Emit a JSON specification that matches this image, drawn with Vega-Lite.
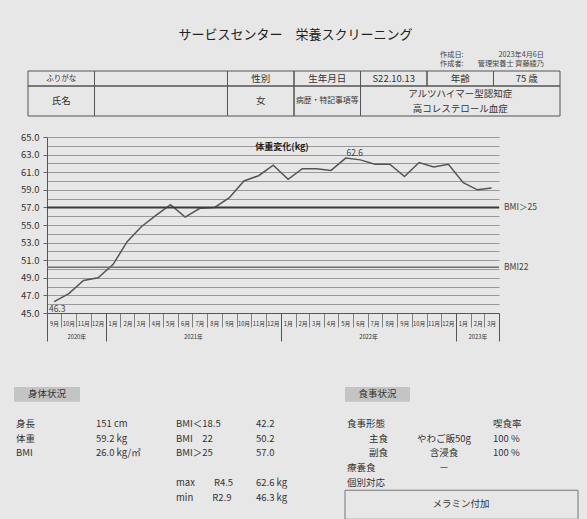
{
  "$schema": "https://vega.github.io/schema/vega-lite/v6.json",
  "background": "#e7e7e7",
  "padding": {"left": 14, "top": 28, "right": 0, "bottom": 0},
  "config": {"font": "Noto Sans CJK JP", "view": {"stroke": null}},
  "title": {"text": "サービスセンター\u3000栄養スクリーニング", "fontSize": 13, "fontWeight": "normal", "color": "#222", "anchor": "middle", "dx": -15, "offset": 9.5},
  "datasets": {
    "weight": [
      {"month": "2020-09", "weight": 46.3}, {"month": "2020-10", "weight": 47.2}, {"month": "2020-11", "weight": 48.7}, {"month": "2020-12", "weight": 49.0},
      {"month": "2021-01", "weight": 50.5}, {"month": "2021-02", "weight": 53.1}, {"month": "2021-03", "weight": 54.8}, {"month": "2021-04", "weight": 56.1},
      {"month": "2021-05", "weight": 57.3}, {"month": "2021-06", "weight": 55.9}, {"month": "2021-07", "weight": 56.9}, {"month": "2021-08", "weight": 57.0},
      {"month": "2021-09", "weight": 58.1}, {"month": "2021-10", "weight": 60.0}, {"month": "2021-11", "weight": 60.6}, {"month": "2021-12", "weight": 61.8},
      {"month": "2022-01", "weight": 60.2}, {"month": "2022-02", "weight": 61.4}, {"month": "2022-03", "weight": 61.4}, {"month": "2022-04", "weight": 61.2},
      {"month": "2022-05", "weight": 62.6}, {"month": "2022-06", "weight": 62.4}, {"month": "2022-07", "weight": 61.9}, {"month": "2022-08", "weight": 61.9},
      {"month": "2022-09", "weight": 60.5}, {"month": "2022-10", "weight": 62.1}, {"month": "2022-11", "weight": 61.6}, {"month": "2022-12", "weight": 61.9},
      {"month": "2023-01", "weight": 59.8}, {"month": "2023-02", "weight": 59.0}, {"month": "2023-03", "weight": 59.2}
    ],
    "bmi": [
      {"label": "BMI＞25", "value": 57.0},
      {"label": "BMI22", "value": 50.2}
    ],
    "meta": [
      {"row": "r1", "col": "ageLabel", "part": "label", "text": "作成日:\n作成者:"},
      {"row": "r1", "col": "age", "part": "value", "text": "2023年4月6日\n管理栄養士 齊藤綾乃"}
    ],
    "header": [
      {"row": "r1", "col": "label", "text": "ふりがな"},
      {"row": "r1", "col": "sei", "text": ""},
      {"row": "r1", "col": "sex", "text": "性別"},
      {"row": "r1", "col": "dobLabel", "text": "生年月日"},
      {"row": "r1", "col": "dob", "text": "S22.10.13"},
      {"row": "r1", "col": "ageLabel", "text": "年齢"},
      {"row": "r1", "col": "age", "text": "75 歳"},
      {"row": "r2a", "col": "label", "text": "氏名"},
      {"row": "r2a", "col": "sei", "text": ""},
      {"row": "r2a", "col": "sex", "text": "女"},
      {"row": "r2a", "col": "dobLabel", "text": "病歴・特記事項等"},
      {"row": "r2a", "col": "ageLabel", "text": "アルツハイマー型認知症"},
      {"row": "r2b", "col": "ageLabel", "text": "高コレステロール血症"}
    ],
    "footer": [
      {"row": 0, "col": "c0", "text": "身体状況", "kind": "section"},
      {"row": 0, "col": "c4", "text": "食事状況", "kind": "section"},
      {"row": 2, "col": "c0", "text": "身長", "kind": "item"},
      {"row": 2, "col": "c1", "text": "151 cm", "kind": "item"},
      {"row": 2, "col": "c2", "text": "BMI＜18.5", "kind": "item"},
      {"row": 2, "col": "c3", "text": "42.2", "kind": "item"},
      {"row": 2, "col": "c4", "text": "食事形態", "kind": "item"},
      {"row": 2, "col": "c6", "text": "喫食率", "kind": "item"},
      {"row": 3, "col": "c0", "text": "体重", "kind": "item"},
      {"row": 3, "col": "c1", "text": "59.2 kg", "kind": "item"},
      {"row": 3, "col": "c2", "text": "BMI\u300022", "kind": "item"},
      {"row": 3, "col": "c3", "text": "50.2", "kind": "item"},
      {"row": 3, "col": "c4", "text": "主食", "kind": "sub"},
      {"row": 3, "col": "c5", "text": "やわご飯50g", "kind": "item"},
      {"row": 3, "col": "c6", "text": "100 %", "kind": "item"},
      {"row": 4, "col": "c0", "text": "BMI", "kind": "item"},
      {"row": 4, "col": "c1", "text": "26.0 kg/㎡", "kind": "item"},
      {"row": 4, "col": "c2", "text": "BMI＞25", "kind": "item"},
      {"row": 4, "col": "c3", "text": "57.0", "kind": "item"},
      {"row": 4, "col": "c4", "text": "副食", "kind": "sub"},
      {"row": 4, "col": "c5", "text": "含浸食", "kind": "item"},
      {"row": 4, "col": "c6", "text": "100 %", "kind": "item"},
      {"row": 5, "col": "c4", "text": "療養食", "kind": "item"},
      {"row": 5, "col": "c5", "text": "－", "kind": "item"},
      {"row": 6, "col": "c2", "text": "max\u3000\u3000R4.5", "kind": "item"},
      {"row": 6, "col": "c3", "text": "62.6 kg", "kind": "item"},
      {"row": 6, "col": "c4", "text": "個別対応", "kind": "item"},
      {"row": 7, "col": "c2", "text": "min\u3000\u3000R2.9", "kind": "item"},
      {"row": 7, "col": "c3", "text": "46.3 kg", "kind": "item"},
      {"row": 7, "col": "c4", "text": "メラミン付加", "kind": "note"}
    ]
  },
  "spacing": 45,
  "vconcat": [
    {
      "spacing": 15,
      "vconcat": [
        {
          "width": 532,
          "height": 45,
          "data": {"name": "header"},
          "encoding": {
            "x": {"field": "col", "type": "nominal", "scale": {"domain": ["label", "sei", "mei", "sex", "dobLabel", "dob", "ageLabel", "age"], "paddingInner": 0, "paddingOuter": 0}, "axis": null},
            "y": {"field": "row", "type": "nominal", "scale": {"domain": ["r1", "r2a", "r2b"], "paddingInner": 0, "paddingOuter": 0}, "axis": null}
          },
          "layer": [
            {
              "data": {"name": "meta"},
              "transform": [{"filter": "datum.part === 'label'"}],
              "mark": {"type": "text", "align": "left", "baseline": "middle", "lineBreak": "\n", "lineHeight": 9, "fontSize": 7.2, "color": "#444", "xOffset": -6, "dy": -23.5},
              "encoding": {
                "x": {"field": "col", "type": "nominal", "bandPosition": 0, "scale": {"domain": ["label", "sei", "mei", "sex", "dobLabel", "dob", "ageLabel", "age"], "paddingInner": 0, "paddingOuter": 0}, "axis": null},
                "text": {"field": "text"}
              }
            },
            {
              "data": {"name": "meta"},
              "transform": [{"filter": "datum.part === 'value'"}],
              "mark": {"type": "text", "align": "right", "baseline": "middle", "lineBreak": "\n", "lineHeight": 9, "fontSize": 7.2, "color": "#444", "xOffset": -35, "dy": -23.5},
              "encoding": {
                "x": {"field": "col", "type": "nominal", "bandPosition": 1, "scale": {"domain": ["label", "sei", "mei", "sex", "dobLabel", "dob", "ageLabel", "age"], "paddingInner": 0, "paddingOuter": 0}, "axis": null},
                "text": {"field": "text"}
              }
            },
            {
              "transform": [{"filter": "datum.row === 'r1' && datum.col !== 'sei'"}],
              "mark": {"type": "rect", "fill": "transparent", "stroke": "#555", "strokeWidth": 1, "xOffset": -19}
            },
            {
              "transform": [{"filter": "datum.col === 'sei' && datum.row === 'r1'"}],
              "mark": {"type": "rect", "fill": "transparent", "stroke": "#555", "strokeWidth": 1, "width": 133, "align": "left", "xOffset": -19}
            },
            {
              "transform": [{"filter": "datum.row === 'r2a' && (datum.col === 'label' || datum.col === 'sex' || datum.col === 'dobLabel')"}],
              "mark": {"type": "rect", "fill": "transparent", "stroke": "#555", "strokeWidth": 1, "height": 30, "baseline": "top", "xOffset": -19}
            },
            {
              "transform": [{"filter": "datum.row === 'r2a' && datum.col === 'sei'"}],
              "mark": {"type": "rect", "fill": "transparent", "stroke": "#555", "strokeWidth": 1, "width": 133, "align": "left", "height": 30, "baseline": "top", "xOffset": -19}
            },
            {
              "transform": [{"filter": "datum.row === 'r2a' && datum.col === 'ageLabel'"}],
              "mark": {"type": "rect", "fill": "transparent", "stroke": "#555", "strokeWidth": 1, "width": 199.5, "height": 30, "baseline": "top", "xOffset": -19}
            },
            {
              "transform": [{"filter": "datum.row === 'r1' && datum.text !== ''"}],
              "mark": {"type": "text", "color": "#333", "baseline": "middle", "xOffset": -19},
              "encoding": {
                "text": {"field": "text"},
                "size": {"condition": {"test": "datum.text === 'ふりがな'", "value": 7.5}, "value": 9.5}
              }
            },
            {
              "transform": [{"filter": "datum.row === 'r2a' && (datum.col === 'label' || datum.col === 'sex' || datum.col === 'dobLabel')"}],
              "mark": {"type": "text", "color": "#333", "baseline": "middle", "xOffset": -19},
              "encoding": {
                "y": {"field": "row", "type": "nominal", "bandPosition": 1, "scale": {"domain": ["r1", "r2a", "r2b"], "paddingInner": 0, "paddingOuter": 0}, "axis": null},
                "text": {"field": "text"},
                "size": {"condition": {"test": "datum.col === 'dobLabel'", "value": 7.8}, "value": 9.5}
              }
            },
            {
              "transform": [{"filter": "datum.col === 'ageLabel' && datum.row !== 'r1'"}],
              "mark": {"type": "text", "color": "#333", "fontSize": 9.5, "baseline": "middle", "xOffset": -19},
              "encoding": {"text": {"field": "text"}}
            }
          ]
        },
        {
          "width": 452,
          "height": 176,
          "title": {"text": "体重変化(kg)", "fontSize": 9, "fontWeight": "bold", "color": "#222", "anchor": "middle", "frame": "group", "dx": 9, "offset": -20},
          "data": {"name": "weight"},
          "resolve": {"axis": {"x": "independent", "y": "independent"}},
          "layer": [
            {
              "mark": {"type": "line", "color": "#555", "strokeWidth": 1.5},
              "encoding": {
                "x": {
                  "field": "month", "type": "temporal", "timeUnit": "utcyearmonth", "bandPosition": 0.5,
                  "scale": {"domain": [{"year": 2020, "month": 9, "date": 1, "utc": true}, {"year": 2023, "month": 4, "date": 1, "utc": true}], "nice": false},
                  "axis": {
                    "title": null, "orient": "bottom",
                    "tickCount": {"interval": "month", "step": 1},
                    "labelExpr": "utcyear(datum.value) == 2023 && utcmonth(datum.value) == 3 ? '' : (utcmonth(datum.value) + 1) + '月'",
                    "labelOffset": 7, "labelFontSize": 5.8, "labelColor": "#333", "labelBaseline": "middle", "labelAlign": "center",
                    "labelPadding": -4, "tickSize": 14, "tickColor": "#666", "tickWidth": 0.8,
                    "domainColor": "#555", "domainWidth": 1, "grid": false,
                    "labelOverlap": false, "labelFlush": false, "labelBound": false
                  }
                },
                "y": {
                  "field": "weight", "type": "quantitative",
                  "scale": {"domain": [45, 65], "nice": false, "zero": false},
                  "axis": {
                    "title": null, "orient": "left",
                    "values": [45, 46, 47, 48, 49, 50, 51, 52, 53, 54, 55, 56, 57, 58, 59, 60, 61, 62, 63, 64, 65],
                    "grid": true, "gridColor": "#858585", "gridWidth": 0.8,
                    "labels": false, "ticks": false, "domain": true, "domainColor": "#555", "domainWidth": 1
                  }
                }
              }
            },
            {
              "data": {"name": "bmi"},
              "transform": [{"filter": "datum.label === 'BMI＞25'"}],
              "mark": {"type": "rule", "color": "#3a3a3a", "strokeWidth": 2},
              "encoding": {
                "y": {
                  "field": "value", "type": "quantitative",
                  "scale": {"domain": [45, 65], "nice": false, "zero": false},
                  "axis": {
                    "title": null, "orient": "left",
                    "values": [45, 47, 49, 51, 53, 55, 57, 59, 61, 63, 65],
                    "format": ".1f", "labelFontSize": 9.5, "labelColor": "#333",
                    "ticks": true, "tickSize": 4, "tickColor": "#666", "labelPadding": 4,
                    "domain": false, "grid": false
                  }
                }
              }
            },
            {
              "data": {"name": "bmi"},
              "transform": [{"filter": "datum.label === 'BMI22'"}],
              "mark": {"type": "rule", "color": "#6e6e6e", "strokeWidth": 1.4},
              "encoding": {
                "y": {"field": "value", "type": "quantitative", "scale": {"domain": [45, 65], "nice": false, "zero": false}, "axis": null}
              }
            },
            {
              "data": {"name": "bmi"},
              "mark": {"type": "text", "align": "left", "baseline": "middle", "dx": 5, "fontSize": 8.5, "color": "#444"},
              "encoding": {
                "x": {"value": "width"},
                "y": {"field": "value", "type": "quantitative", "scale": {"domain": [45, 65], "nice": false, "zero": false}, "axis": null},
                "text": {"field": "label"}
              }
            },
            {
              "transform": [
                {"joinaggregate": [{"op": "max", "field": "weight", "as": "maxW"}]},
                {"filter": "datum.weight === datum.maxW"}
              ],
              "mark": {"type": "text", "dx": 9, "dy": -5, "baseline": "middle", "fontSize": 8.5, "color": "#444"},
              "encoding": {
                "x": {
                  "field": "month", "type": "temporal", "timeUnit": "utcyearmonth", "bandPosition": 0.5,
                  "scale": {"domain": [{"year": 2020, "month": 9, "date": 1, "utc": true}, {"year": 2023, "month": 4, "date": 1, "utc": true}], "nice": false},
                  "axis": {
                    "title": null, "orient": "bottom",
                    "values": [
                      {"year": 2020, "month": 9, "date": 1, "utc": true},
                      {"year": 2021, "month": 1, "date": 1, "utc": true},
                      {"year": 2022, "month": 1, "date": 1, "utc": true},
                      {"year": 2023, "month": 1, "date": 1, "utc": true},
                      {"year": 2023, "month": 4, "date": 1, "utc": true}
                    ],
                    "labels": false, "ticks": true, "tickSize": 28, "tickColor": "#555", "tickWidth": 1,
                    "domain": false, "grid": false
                  }
                },
                "y": {"field": "weight", "type": "quantitative", "scale": {"domain": [45, 65], "nice": false, "zero": false}, "axis": null},
                "text": {"field": "weight", "type": "quantitative", "format": ".1f"}
              }
            },
            {
              "transform": [
                {"joinaggregate": [{"op": "min", "field": "weight", "as": "minW"}]},
                {"filter": "datum.weight === datum.minW"}
              ],
              "mark": {"type": "text", "dx": 3, "dy": 7, "baseline": "middle", "fontSize": 8.5, "color": "#444"},
              "encoding": {
                "x": {
                  "field": "month", "type": "temporal", "timeUnit": "utcyearmonth", "bandPosition": 0.5,
                  "scale": {"domain": [{"year": 2020, "month": 9, "date": 1, "utc": true}, {"year": 2023, "month": 4, "date": 1, "utc": true}], "nice": false},
                  "axis": {
                    "title": null, "orient": "bottom",
                    "values": [
                      {"year": 2020, "month": 11, "date": 1, "utc": true},
                      {"year": 2021, "month": 7, "date": 2, "utc": true},
                      {"year": 2022, "month": 7, "date": 2, "utc": true},
                      {"year": 2023, "month": 2, "date": 15, "utc": true}
                    ],
                    "labelExpr": "utcFormat(datum.value, '%Y') + '年'",
                    "labelFontSize": 5.8, "labelColor": "#333", "labelBaseline": "middle", "labelAlign": "center",
                    "labelPadding": 23.4, "ticks": false, "tickSize": 0,
                    "domain": false, "grid": false,
                    "labelOverlap": false, "labelFlush": false, "labelBound": false
                  }
                },
                "y": {"field": "weight", "type": "quantitative", "scale": {"domain": [45, 65], "nice": false, "zero": false}, "axis": null},
                "text": {"field": "weight", "type": "quantitative", "format": ".1f"}
              }
            }
          ]
        }
      ]
    },
    {
      "width": 560,
      "height": 118,
      "data": {"name": "footer"},
      "encoding": {
        "x": {"field": "col", "type": "nominal", "bandPosition": 0, "scale": {"domain": ["c0", "c1", "c2", "c3", "c4", "c5", "c6"], "paddingInner": 0, "paddingOuter": 0}, "axis": null},
        "y": {"field": "row", "type": "ordinal", "scale": {"domain": [0, 1, 2, 3, 4, 5, 6, 7], "paddingInner": 0, "paddingOuter": 0}, "axis": null}
      },
      "layer": [
        {
          "transform": [{"filter": "datum.kind === 'section' && datum.col === 'c0'"}],
          "mark": {"type": "rect", "fill": "#c4c4c4", "width": 66, "align": "left", "xOffset": -33}
        },
        {
          "transform": [{"filter": "datum.kind === 'section' && datum.col === 'c4'"}],
          "mark": {"type": "rect", "fill": "#c4c4c4", "width": 65, "align": "left", "xOffset": -22}
        },
        {
          "transform": [{"filter": "datum.kind === 'section' && datum.col === 'c0'"}],
          "mark": {"type": "text", "align": "center", "baseline": "middle", "xOffset": 0, "fontSize": 9.5, "color": "#333"},
          "encoding": {"text": {"field": "text"}}
        },
        {
          "transform": [{"filter": "datum.kind === 'section' && datum.col === 'c4'"}],
          "mark": {"type": "text", "align": "center", "baseline": "middle", "xOffset": 10.5, "fontSize": 9.5, "color": "#333"},
          "encoding": {"text": {"field": "text"}}
        },
        {
          "transform": [{"filter": "datum.kind === 'note'"}],
          "mark": {"type": "rect", "fill": "transparent", "stroke": "#777", "strokeWidth": 1, "width": 233, "align": "left", "height": 29, "baseline": "top", "xOffset": -22}
        },
        {
          "transform": [{"filter": "datum.kind === 'note'"}],
          "mark": {"type": "text", "align": "center", "baseline": "middle", "xOffset": 94, "dy": 6, "fontSize": 9.5, "color": "#333"},
          "encoding": {"text": {"field": "text"}}
        },
        {
          "transform": [{"filter": "datum.kind === 'item' && (datum.col === 'c0' || datum.col === 'c1' || datum.col === 'c2' || datum.col === 'c3')"}],
          "mark": {"type": "text", "align": "left", "baseline": "middle", "xOffset": -31, "fontSize": 9.5, "color": "#333"},
          "encoding": {"text": {"field": "text"}}
        },
        {
          "transform": [{"filter": "datum.kind === 'item' && datum.col === 'c4'"}],
          "mark": {"type": "text", "align": "left", "baseline": "middle", "xOffset": -20, "fontSize": 9.5, "color": "#333"},
          "encoding": {"text": {"field": "text"}}
        },
        {
          "transform": [{"filter": "datum.kind === 'sub'"}],
          "mark": {"type": "text", "align": "right", "baseline": "middle", "xOffset": 21, "fontSize": 9.5, "color": "#333"},
          "encoding": {"text": {"field": "text"}}
        },
        {
          "transform": [{"filter": "datum.kind === 'item' && datum.col === 'c5'"}],
          "mark": {"type": "text", "align": "center", "baseline": "middle", "xOffset": -3, "fontSize": 9.5, "color": "#333"},
          "encoding": {"text": {"field": "text"}}
        },
        {
          "transform": [{"filter": "datum.kind === 'item' && datum.col === 'c6'"}],
          "mark": {"type": "text", "align": "left", "baseline": "middle", "xOffset": -34, "fontSize": 9.5, "color": "#333"},
          "encoding": {"text": {"field": "text"}}
        }
      ]
    }
  ]
}
